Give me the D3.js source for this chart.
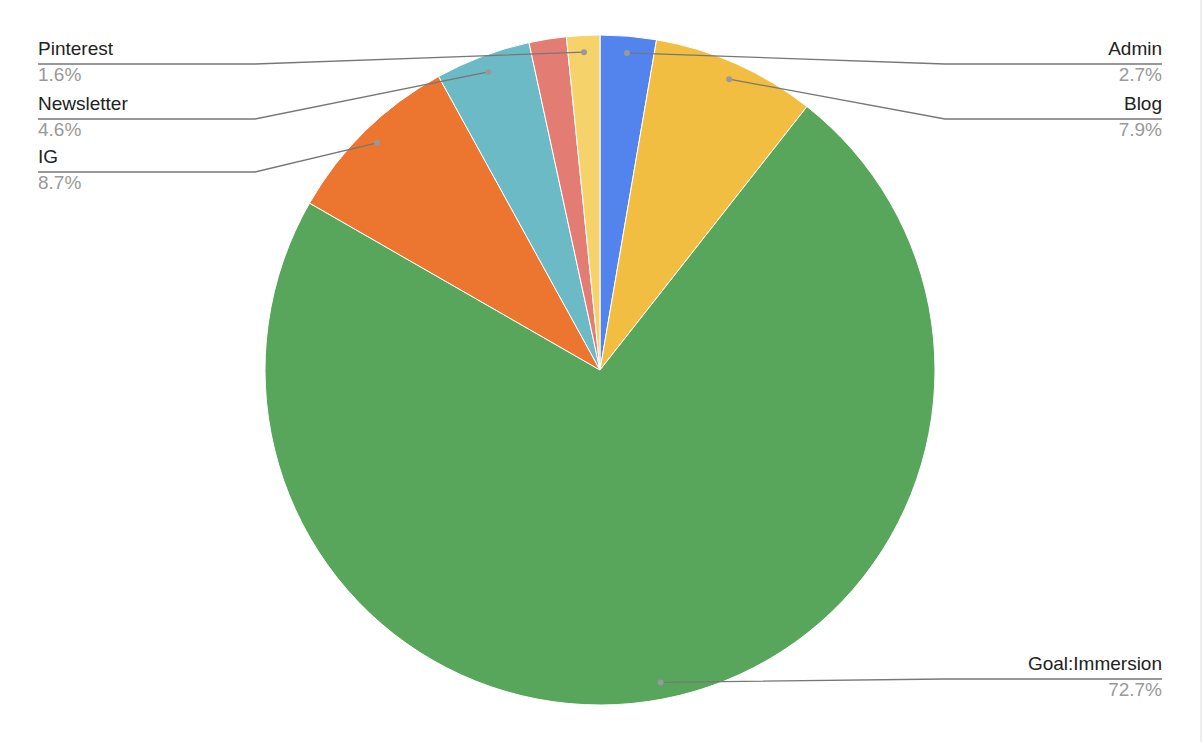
<!DOCTYPE html>
<html><head><meta charset="utf-8">
<script src="https://cdn.jsdelivr.net/npm/d3@7"></script>
<style>body{margin:0;background:#fff}svg{display:block}</style>
</head><body>
<svg id="c" width="1204" height="742"></svg>
<script>
const categories = ["Admin","Blog","Goal:Immersion","IG","Newsletter","Other","Pinterest"];
const values = [2.7,7.9,72.7,8.7,4.6,1.8,1.6];
const labels = ["2.7%","7.9%","72.7%","8.7%","4.6%","","1.6%"];
const colors = ["#5383EC","#F1BE42","#58A65C","#EC7530","#6CBAC5","#E37D73","#F6D26B"];
// label placement: side and row y (name baseline)
const labelSide = ["right","right","right","left","left",null,"left"];
const labelY = [55,110,670,163,110,null,55];

const svg = d3.select("#c");
const cx = 600, cy = 370, r = 335;
const g = svg.append("g").attr("transform",`translate(${cx},${cy})`);
const pie = d3.pie().sort(null).value(d=>d)(values);
const arc = d3.arc().innerRadius(0).outerRadius(r);
g.selectAll("path").data(pie).enter().append("path")
  .attr("d",arc).attr("fill",(d,i)=>colors[i]).attr("stroke","#fff").attr("stroke-width",1);

pie.forEach((d,i)=>{
  if(!labelSide[i]) return;
  const a = (d.startAngle+d.endAngle)/2;
  const px = cx + Math.sin(a)*r*0.95, py = cy - Math.cos(a)*r*0.95;
  const right = labelSide[i]==="right";
  const ly = labelY[i]+9;
  const xEnd = right ? 1162 : 38;
  const xBend = right ? 945 : 255;
  svg.append("polyline").attr("points",`${px},${py} ${xBend},${ly} ${xEnd},${ly}`)
    .attr("fill","none").attr("stroke","#777").attr("stroke-width",1.3);
  svg.append("circle").attr("cx",px).attr("cy",py).attr("r",3).attr("fill","#999");
  svg.append("text").attr("x",xEnd).attr("y",labelY[i]).attr("text-anchor",right?"end":"start")
    .attr("font-family","Liberation Sans, Arial, sans-serif").attr("font-size",19).attr("fill","#222")
    .text(categories[i]);
  svg.append("text").attr("x",xEnd).attr("y",labelY[i]+26).attr("text-anchor",right?"end":"start")
    .attr("font-family","Liberation Sans, Arial, sans-serif").attr("font-size",19).attr("fill","#999")
    .text(labels[i]);
});
svg.append("line").attr("x1",1201).attr("x2",1201).attr("y1",0).attr("y2",742).attr("stroke","#ddd");
</script>
</body></html>
